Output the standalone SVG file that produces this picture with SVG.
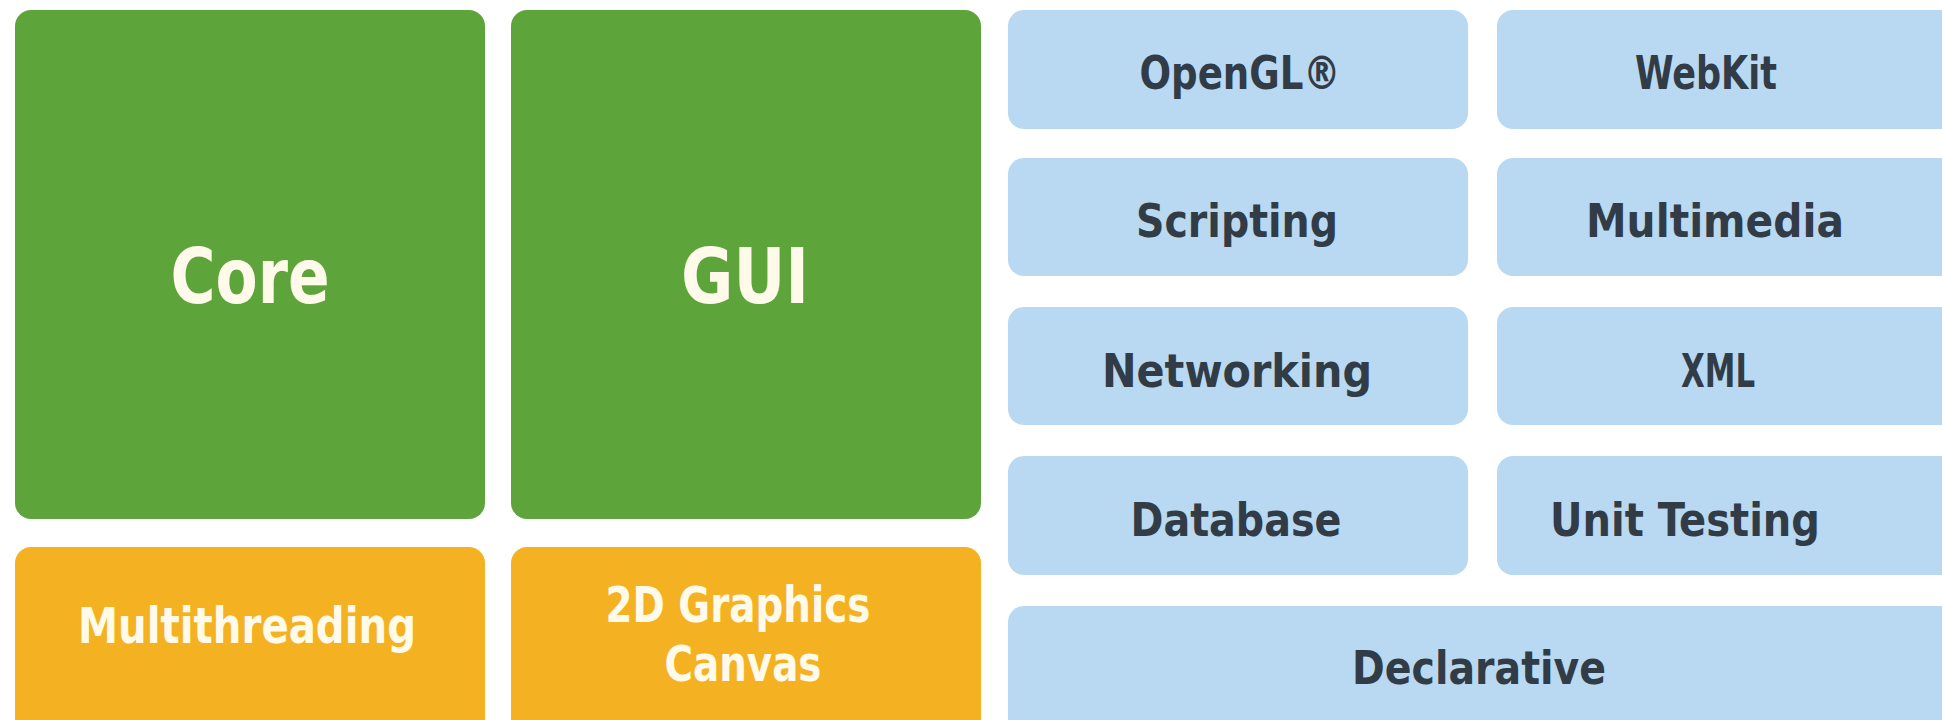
<svg xmlns="http://www.w3.org/2000/svg" width="1942" height="720" viewBox="0 0 1942 720">
<style>
.g{fill:#5da53b}
.o{fill:#f4b223}
.b{fill:#b8d9f1}
text{font-family:'DejaVu Sans Condensed','DejaVu Sans',sans-serif;font-stretch:condensed;font-weight:bold;text-anchor:middle}
.w{fill:#fffaea}
.d{fill:#313c46;font-size:46px}
.big{font-size:77px}
.mid{font-size:50px}
</style>
<rect width="1942" height="720" fill="#ffffff"/>
<g id="core"><rect class="g" x="15" y="10" width="470" height="509" rx="16"/><text class="w big" x="250" y="303" textLength="159" lengthAdjust="spacingAndGlyphs">Core</text></g>
<g id="gui"><rect class="g" x="511" y="10" width="470" height="509" rx="16"/><text class="w big" x="745" y="303" textLength="128" lengthAdjust="spacingAndGlyphs">GUI</text></g>
<g id="multithreading"><rect class="o" x="15" y="547" width="470" height="200" rx="16"/><text class="w mid" x="247" y="643" textLength="338" lengthAdjust="spacingAndGlyphs">Multithreading</text></g>
<g id="graphics"><rect class="o" x="511" y="547" width="470" height="200" rx="16"/><text class="w mid" x="738" y="622" textLength="265" lengthAdjust="spacingAndGlyphs">2D Graphics</text><text class="w mid" x="743" y="681" textLength="157" lengthAdjust="spacingAndGlyphs">Canvas</text></g>
<g id="opengl"><rect class="b" x="1008" y="10" width="460" height="119" rx="16"/><text class="d" x="1240" y="89" textLength="201" lengthAdjust="spacingAndGlyphs">OpenGL®</text></g>
<g id="webkit"><rect class="b" x="1497" y="10" width="470" height="119" rx="16"/><text class="d" x="1706" y="89" textLength="142" lengthAdjust="spacingAndGlyphs">WebKit</text></g>
<g id="scripting"><rect class="b" x="1008" y="158" width="460" height="118" rx="16"/><text class="d" x="1237" y="237" textLength="202" lengthAdjust="spacingAndGlyphs">Scripting</text></g>
<g id="multimedia"><rect class="b" x="1497" y="158" width="470" height="118" rx="16"/><text class="d" x="1715" y="237" textLength="258" lengthAdjust="spacingAndGlyphs">Multimedia</text></g>
<g id="networking"><rect class="b" x="1008" y="307" width="460" height="118" rx="16"/><text class="d" x="1237" y="387" textLength="270" lengthAdjust="spacingAndGlyphs">Networking</text></g>
<g id="xml"><rect class="b" x="1497" y="307" width="470" height="118" rx="16"/><text class="d" x="1718" y="387" textLength="74" lengthAdjust="spacingAndGlyphs">XML</text></g>
<g id="database"><rect class="b" x="1008" y="456" width="460" height="119" rx="16"/><text class="d" x="1236" y="536" textLength="211" lengthAdjust="spacingAndGlyphs">Database</text></g>
<g id="unittesting"><rect class="b" x="1497" y="456" width="470" height="119" rx="16"/><text class="d" x="1685" y="536" textLength="270" lengthAdjust="spacingAndGlyphs">Unit Testing</text></g>
<g id="declarative"><rect class="b" x="1008" y="606" width="960" height="140" rx="16"/><text class="d" x="1479" y="684" textLength="254" lengthAdjust="spacingAndGlyphs">Declarative</text></g>
<g id="connectors"></g>
</svg>
